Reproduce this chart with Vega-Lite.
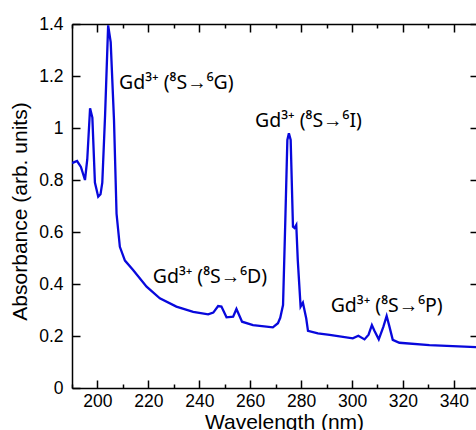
{
  "$schema": "https://vega.github.io/schema/vega-lite/v6.json",
  "autosize": "none",
  "width": 404,
  "height": 364,
  "padding": {"left": 72, "top": 24, "right": 0, "bottom": 42},
  "background": "white",
  "view": {"stroke": null},
  "config": {
    "font": "Liberation Sans",
    "axis": {
      "domainColor": "black",
      "domainWidth": 1.5,
      "tickColor": "black",
      "tickWidth": 1.5,
      "labelColor": "black",
      "titleColor": "black",
      "labelFont": "Liberation Sans",
      "titleFont": "Liberation Sans",
      "labelFontSize": 17.5,
      "titleFontSize": 21,
      "titleFontWeight": "normal",
      "grid": false
    }
  },
  "layer": [
    {
      "data": {
        "values": [
          {"wl": 190, "abs": 0.865},
          {"wl": 192, "abs": 0.873},
          {"wl": 193.5, "abs": 0.85},
          {"wl": 195.1, "abs": 0.8},
          {"wl": 196, "abs": 0.88},
          {"wl": 197.1, "abs": 1.076},
          {"wl": 198, "abs": 1.04},
          {"wl": 199, "abs": 0.79},
          {"wl": 200.3, "abs": 0.736},
          {"wl": 201.2, "abs": 0.745},
          {"wl": 201.9, "abs": 0.79},
          {"wl": 203, "abs": 1.05},
          {"wl": 204.2, "abs": 1.395},
          {"wl": 205.2, "abs": 1.33},
          {"wl": 206.5, "abs": 1.03},
          {"wl": 207.5, "abs": 0.67},
          {"wl": 208.8, "abs": 0.543},
          {"wl": 210.8, "abs": 0.49},
          {"wl": 214, "abs": 0.454},
          {"wl": 219.3, "abs": 0.39},
          {"wl": 224.5, "abs": 0.345},
          {"wl": 231, "abs": 0.313},
          {"wl": 237.6, "abs": 0.293},
          {"wl": 243.5, "abs": 0.283},
          {"wl": 245.5, "abs": 0.29},
          {"wl": 247.4, "abs": 0.315},
          {"wl": 248.7, "abs": 0.313},
          {"wl": 250.7, "abs": 0.272},
          {"wl": 253.3, "abs": 0.274},
          {"wl": 254.6, "abs": 0.304},
          {"wl": 256.8, "abs": 0.255},
          {"wl": 261.1, "abs": 0.242},
          {"wl": 268.9, "abs": 0.233},
          {"wl": 270.9, "abs": 0.249},
          {"wl": 271.8, "abs": 0.27},
          {"wl": 272.9, "abs": 0.319},
          {"wl": 273.8, "abs": 0.646},
          {"wl": 274.6, "abs": 0.954},
          {"wl": 275.2, "abs": 0.98},
          {"wl": 275.9, "abs": 0.954},
          {"wl": 276.8, "abs": 0.62},
          {"wl": 277.4, "abs": 0.615},
          {"wl": 278.1, "abs": 0.627},
          {"wl": 278.7, "abs": 0.49},
          {"wl": 279.8, "abs": 0.313},
          {"wl": 280.7, "abs": 0.328},
          {"wl": 282, "abs": 0.268},
          {"wl": 282.7, "abs": 0.22},
          {"wl": 286.6, "abs": 0.21},
          {"wl": 291.2, "abs": 0.204},
          {"wl": 300.3, "abs": 0.191},
          {"wl": 302.5, "abs": 0.201},
          {"wl": 304.9, "abs": 0.187},
          {"wl": 306.5, "abs": 0.205},
          {"wl": 307.8, "abs": 0.242},
          {"wl": 308.8, "abs": 0.22},
          {"wl": 310.5, "abs": 0.187},
          {"wl": 312.3, "abs": 0.235},
          {"wl": 313.6, "abs": 0.277},
          {"wl": 314.6, "abs": 0.24},
          {"wl": 316, "abs": 0.185},
          {"wl": 318.6, "abs": 0.174},
          {"wl": 330.4, "abs": 0.165},
          {"wl": 348.7, "abs": 0.157}
        ]
      },
      "mark": {"type": "line", "color": "#0808dc", "strokeWidth": 2.3, "clip": true},
      "encoding": {
        "x": {
          "field": "wl",
          "type": "quantitative",
          "scale": {"domain": [190, 348.7], "nice": false, "zero": false},
          "axis": {
            "orient": "bottom",
            "values": [190, 200, 210, 220, 230, 240, 250, 260, 270, 280, 290, 300, 310, 320, 330, 340],
            "labelExpr": "datum.value % 20 === 0 ? datum.label : ''",
            "tickSize": {"condition": {"test": "datum.value % 20 === 0", "value": -8}, "value": -4},
            "labelPadding": 12,
            "title": "Wavelength (nm)",
            "titleX": 212,
            "titleY": 40,
            "titleBaseline": "alphabetic",
            "titleAnchor": "middle"
          }
        },
        "y": {
          "field": "abs",
          "type": "quantitative",
          "scale": {"domain": [0, 1.4], "nice": false},
          "axis": {
            "orient": "left",
            "values": [0, 0.2, 0.4, 0.6, 0.8, 1, 1.2, 1.4],
            "format": "~g",
            "tickSize": -8,
            "labelPadding": 17,
            "title": "Absorbance (arb. units)",
            "titleX": -46,
            "titleY": 187,
            "titleAngle": -90,
            "titleBaseline": "alphabetic",
            "titleAnchor": "middle"
          }
        }
      }
    },
    {
      "data": {
        "values": [
          {"wl": 208.5, "abs": 1.15, "label": "Gd³⁺ (⁸S→⁶G)"},
          {"wl": 261.9, "abs": 1.004, "label": "Gd³⁺ (⁸S→⁶I)"},
          {"wl": 221.7, "abs": 0.403, "label": "Gd³⁺ (⁸S→⁶D)"},
          {"wl": 291.6, "abs": 0.294, "label": "Gd³⁺ (⁸S→⁶P)"}
        ]
      },
      "mark": {"type": "text", "align": "left", "baseline": "alphabetic", "fontSize": 19.5, "font": "Noto Sans", "color": "black"},
      "encoding": {
        "x": {
          "field": "wl",
          "type": "quantitative",
          "axis": {
            "orient": "top",
            "values": [190, 200, 210, 220, 230, 240, 250, 260, 270, 280, 290, 300, 310, 320, 330, 340],
            "labels": false,
            "tickSize": {"condition": {"test": "datum.value % 20 === 0", "value": -8}, "value": -4},
            "title": null
          }
        },
        "y": {
          "field": "abs",
          "type": "quantitative",
          "axis": {
            "orient": "right",
            "values": [0, 0.2, 0.4, 0.6, 0.8, 1, 1.2, 1.4],
            "labels": false,
            "domain": false,
            "tickSize": -6,
            "title": null
          }
        },
        "text": {"field": "label"}
      }
    }
  ],
  "resolve": {"axis": {"x": "independent", "y": "independent"}}
}
